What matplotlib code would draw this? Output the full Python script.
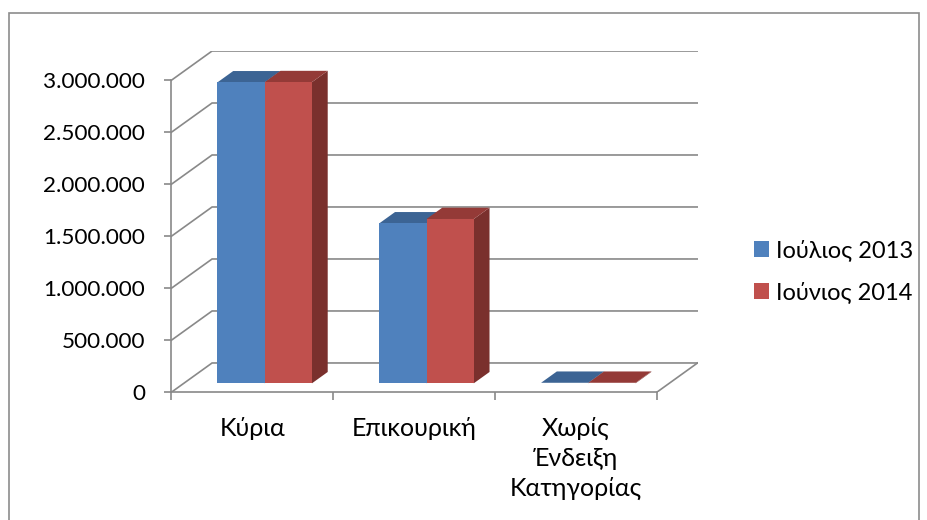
import matplotlib
matplotlib.use("Agg")
import matplotlib.pyplot as plt
from matplotlib import font_manager
from matplotlib.patches import Polygon, Rectangle
from matplotlib.lines import Line2D
from matplotlib.ticker import FuncFormatter, FixedLocator

# ---------------- data ----------------
categories = ["Κύρια", "Επικουρική", "Χωρίς\nΈνδειξη\nΚατηγορίας"]
series_names = ["Ιούλιος 2013", "Ιούνιος 2014"]
values_2013 = [2894000, 1538000, 5000]
values_2014 = [2896000, 1580000, 5000]
y_ticks = [0, 500000, 1000000, 1500000, 2000000, 2500000, 3000000]


def has_greek(fam):
    try:
        from fontTools.ttLib import TTFont
        path = font_manager.findfont(font_manager.FontProperties(family=fam),
                                     fallback_to_default=False)
        f = TTFont(path, fontNumber=0)
        cmap = f.getBestCmap()
        return all(ord(c) in cmap for c in "ΕπικουρήΚύΧωςΈνδξηγΙλ")
    except Exception:
        return False


FONT = "Lato" if has_greek("Lato") else "Open Sans"
plt.rcParams["font.family"] = [FONT, "DejaVu Sans"]
FS_Y = 16.2
FS_X = 18
FS_LEG = 17

# styles
front_cols = ["#4F81BD", "#C0504D"]
top_cols = ["#3C6494", "#943A37"]
side_cols = ["#365A86", "#7A302D"]
grid_col = "#898989"
grid_lw = 1.2

W, H = 927, 520
fig = plt.figure(figsize=(W / 100, H / 100), dpi=100)

# 3D oblique geometry (data units)
ncat = len(categories)
DX = 0.252          # depth offset in category units
DY = 282000         # depth offset in value units
f0, f1 = 0.307, 0.693   # bar front / back depth fractions
bw = 0.292          # bar width per series

left_px, bottom_px = 171.3, 392.3
xmax = ncat + DX
ymax = y_ticks[-1] + DY
ax = fig.add_axes([left_px / W, (H - bottom_px) / H, 526.2 / W, 341.3 / H])
ax.set_xlim(0, xmax)
ax.set_ylim(0, ymax)
ax.patch.set_alpha(0)

for s in ["top", "right"]:
    ax.spines[s].set_visible(False)
ax.spines["left"].set_bounds(0, y_ticks[-1])
ax.spines["bottom"].set_bounds(0, ncat)
for s in ["left", "bottom"]:
    ax.spines[s].set_color(grid_col)
    ax.spines[s].set_linewidth(grid_lw)
    ax.spines[s].set_zorder(1)

# y axis
ax.yaxis.set_major_locator(FixedLocator(y_ticks))
ax.yaxis.set_major_formatter(FuncFormatter(lambda v, p: f"{int(round(v)):,}".replace(",", ".")))
ax.tick_params(axis="y", direction="out", length=5, width=grid_lw, color=grid_col,
               labelsize=FS_Y, pad=14, labelcolor="black")

# x axis: major ticks at boundaries, labels at centers (minor)
ax.xaxis.set_major_locator(FixedLocator(list(range(ncat + 1))))
ax.xaxis.set_major_formatter(FuncFormatter(lambda v, p: ""))
ax.xaxis.set_minor_locator(FixedLocator([i + 0.5 for i in range(ncat)]))
ax.set_xticklabels(categories, minor=True, linespacing=1.36)
ax.tick_params(axis="x", which="major", direction="out", length=6, width=grid_lw, color=grid_col)
ax.tick_params(axis="x", which="minor", length=0, labelsize=FS_X, pad=18, labelcolor="black")

# walls / gridlines
for v in y_ticks:
    ax.add_line(Line2D([0, DX, ncat + DX], [v, v + DY, v + DY], color=grid_col,
                       lw=grid_lw, zorder=1, solid_joinstyle="miter"))
# floor right edge
ax.add_line(Line2D([ncat, ncat + DX], [0, DY], color=grid_col, lw=grid_lw, zorder=1))

# bars
all_vals = [values_2013, values_2014]
for i in range(ncat):
    for j, vals in enumerate(all_vals):
        v = vals[i]
        xl = i + 0.5 - bw + j * bw
        xr = xl + bw
        o0 = (f0 * DX, f0 * DY)
        o1 = (f1 * DX, f1 * DY)
        # right side
        ax.add_patch(Polygon([(xr + o0[0], o0[1]), (xr + o0[0], v + o0[1]),
                              (xr + o1[0], v + o1[1]), (xr + o1[0], o1[1])],
                             closed=True, facecolor=side_cols[j], edgecolor="none", zorder=3))
        # top
        ax.add_patch(Polygon([(xl + o0[0], v + o0[1]), (xr + o0[0], v + o0[1]),
                              (xr + o1[0], v + o1[1]), (xl + o1[0], v + o1[1])],
                             closed=True, facecolor=top_cols[j], edgecolor="none", zorder=3))
        # front
        ax.add_patch(Rectangle((xl + o0[0], o0[1]), bw, v, facecolor=front_cols[j],
                               edgecolor="none", zorder=3))

# legend
handles = [Rectangle((0, 0), 1, 1, facecolor=c, edgecolor="none") for c in front_cols]
fig.legend(handles, series_names, loc="center left", bbox_to_anchor=(754 / W, 1 - 271.3 / H),
           frameon=False, fontsize=FS_LEG, handlelength=0.64, handleheight=0.64,
           handletextpad=0.3, labelspacing=0.85, borderpad=0, borderaxespad=0)

# chart border
fig.add_artist(Rectangle((9 / W, -0.05), (919 - 9) / W, (H - 13) / H + 0.05,
                         transform=fig.transFigure, fill=False, edgecolor="#8C8C8C", lw=1.2))

fig.savefig("out.png", dpi=100)
